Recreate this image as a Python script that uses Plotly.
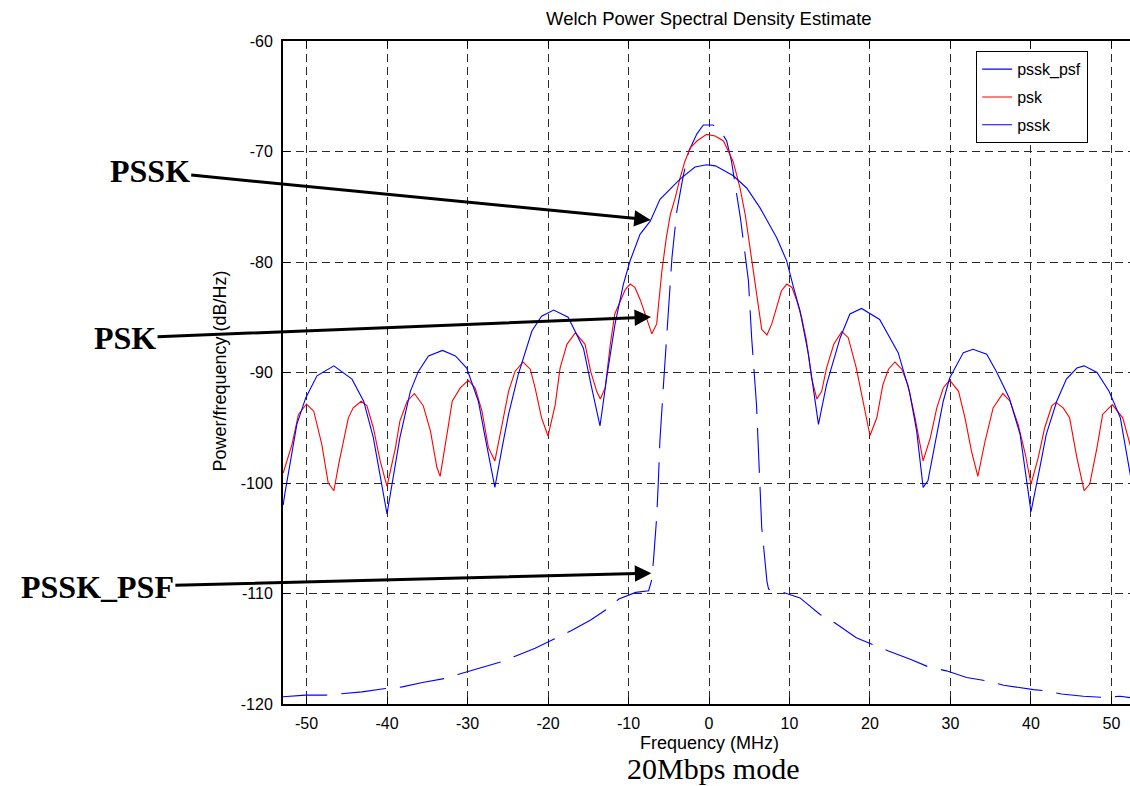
import plotly.graph_objects as go

# ---------------- data ----------------
psf_f = [-53.0, -50.1, -47.6, -45.6, -43.1, -40.2, -38.1, -35.6, -32.9, -31.1, -28.6, -26.1,
         -24.0, -21.6, -19.3, -17.2, -14.7, -12.85, -11.2, -9.1, -7.5, -7.15, -6.9, -6.5,
         -6.3, -6.1, -5.6, -5.2, -4.6, -4.0, -3.2, -2.5, -1.5, -0.7, 0.5, 1.5, 2.2, 2.8,
         3.9, 4.9, 5.3, 5.9, 6.15, 6.55, 7.2, 7.4, 9.25, 11.3, 13.8, 15.7, 18.3, 20.2,
         22.3, 25.0, 27.3, 29.5, 32.0, 34.5, 36.6, 40.3, 41.7, 43.8, 46.5, 49.0, 51.1, 53.0]
psf_db = [-119.35, -119.2, -119.2, -119.05, -118.9, -118.6, -118.45, -118.05, -117.7, -117.3,
          -116.8, -116.25, -115.65, -114.95, -114.15, -113.4, -112.4, -111.5, -110.5, -109.9,
          -109.75, -108.85, -107.05, -103.1, -100.0, -96.2, -90.5, -85.9, -79.6, -75.4, -72.2,
          -69.95, -68.4, -67.6, -67.6, -68.2, -69.05, -70.9, -76.0, -81.7, -86.85, -92.9, -97.0,
          -104.0, -108.9, -109.6, -109.9, -110.4, -111.9, -112.7, -114.0, -114.6, -115.2,
          -115.95, -116.65, -117.0, -117.6, -117.9, -118.3, -118.7, -118.8, -119.1, -119.3,
          -119.4, -119.3, -119.5]

psk_f = [-52.9, -51.8, -51.0, -50.0, -49.1, -48.1, -47.3, -46.6, -46.0, -44.8, -44.2, -43.2,
         -42.5, -41.7, -40.85, -40.0, -38.95, -38.4, -37.5, -36.6, -35.5, -34.6, -33.8, -33.4,
         -32.35, -31.9, -30.9, -29.9, -29.05, -28.2, -27.4, -26.6, -25.7, -24.9, -24.1, -23.1,
         -22.2, -21.6, -20.8, -20.0, -19.1, -18.5, -17.65, -16.6, -15.4, -14.7, -13.95, -13.5,
         -12.9, -12.25, -11.7, -11.0, -10.4, -9.8, -9.2, -8.5, -7.7, -7.1, -6.5, -5.85, -5.3,
         -4.8, -4.2, -3.6, -3.0, -2.3, -1.5, -0.3, 0.77, 1.8, 3.0, 3.85, 4.5, 5.5, 6.55, 7.2,
         7.8, 8.4, 9.0, 9.66, 10.3, 10.9, 11.5, 12.1, 12.75, 13.4, 14.0, 14.6, 15.5, 16.5,
         17.3, 18.3, 19.2, 20.0, 20.85, 21.6, 22.3, 23.1, 23.95, 24.7, 25.6, 26.6, 27.5, 28.3,
         29.1, 29.9, 31.0, 31.8, 32.6, 33.4, 34.3, 35.3, 36.5, 37.4, 38.4, 39.3, 40.0, 40.9,
         41.7, 42.6, 43.1, 44.0, 44.8, 45.7, 46.6, 47.3, 48.2, 48.9, 50.1, 51.4, 52.3, 53.0]
psk_db = [-99.1, -96.5, -93.8, -92.85, -93.5, -96.5, -100.0, -100.7, -98.3, -94.1, -93.2, -92.6,
          -93.0, -95.0, -98.0, -100.3, -96.8, -94.4, -92.6, -91.9, -93.0, -95.3, -98.6, -99.4,
          -94.7, -92.6, -91.4, -90.7, -91.4, -93.5, -96.8, -98.0, -94.7, -91.7, -89.9, -89.05,
          -89.7, -91.4, -94.1, -95.75, -92.9, -89.6, -87.45, -86.4, -87.45, -89.9, -91.7, -92.4,
          -91.4, -87.4, -84.7, -83.5, -82.5, -82.0, -82.3, -83.5, -85.3, -86.5, -85.6, -80.8,
          -77.8, -75.7, -74.2, -72.4, -70.9, -69.65, -69.05, -68.45, -68.6, -69.05, -70.9,
          -73.3, -75.7, -80.8, -86.1, -86.6, -85.6, -84.1, -82.6, -82.0, -82.3, -83.5, -85.0,
          -87.1, -90.5, -92.4, -91.7, -89.6, -87.45, -86.3, -86.85, -89.6, -92.9, -95.7, -94.1,
          -91.1, -89.7, -89.05, -89.7, -91.1, -94.1, -98.0, -95.9, -93.2, -91.4, -90.7, -91.7,
          -94.1, -97.1, -99.4, -96.2, -93.2, -91.9, -92.6, -94.7, -97.4, -100.1, -97.7, -95.0,
          -93.0, -92.7, -93.2, -94.1, -97.7, -100.7, -100.1, -96.8, -93.8, -92.9, -94.1, -96.5,
          -98.5]

pssk_f = [-52.9, -52.7, -51.2, -50.1, -48.7, -46.6, -44.35, -42.9, -41.7, -40.0, -38.4, -37.1,
          -36.1, -34.85, -33.1, -31.5, -30.1, -28.65, -27.8, -26.6, -25.7, -24.9, -23.7, -22.8,
          -22.0, -20.8, -19.3, -17.5, -15.6, -14.57, -13.54, -12.71, -11.68, -10.64, -9.81,
          -8.57, -7.3, -6.09, -3.6, -1.74, -0.29, 0.8, 1.78, 3.02, 4.68, 6.34, 8.41, 9.65,
          10.5, 11.3, 12.35, 13.6, 14.6, 16.3, 17.5, 18.95, 21.2, 23.5, 24.9, 25.8, 26.6, 27.2,
          28.3, 29.1, 29.9, 31.6, 32.8, 34.5, 35.7, 37.3, 38.65, 40.0, 41.1, 41.9, 43.2, 44.4,
          45.7, 46.6, 48.2, 49.7, 51.1, 52.3, 53.0]
pssk_db = [-102.0, -101.0, -94.7, -92.3, -90.3, -89.4, -90.6, -92.6, -95.9, -102.8, -95.9,
           -91.7, -89.9, -88.5, -88.0, -88.5, -89.6, -92.6, -95.9, -100.4, -96.8, -93.8, -90.2,
           -88.05, -86.25, -84.9, -84.35, -85.0, -87.8, -91.4, -94.84, -90.47, -85.64, -82.02,
           -79.91, -77.5, -76.3, -74.33, -72.5, -71.4, -71.2, -71.3, -71.7, -72.2, -73.3, -75.1,
           -77.8, -79.9, -82.3, -84.4, -88.35, -94.7, -91.1, -86.85, -84.7, -84.2, -85.2, -88.2,
           -91.7, -95.3, -100.4, -99.8, -95.6, -92.6, -90.5, -88.2, -87.9, -88.35, -89.9, -92.3,
           -95.6, -102.6, -98.6, -95.6, -92.6, -90.6, -89.6, -89.4, -90.0, -91.7, -94.1, -98.9,
           -102.0]

x_ticks = [-50, -40, -30, -20, -10, 0, 10, 20, 30, 40, 50]
x_tick_labels = ["-50", "-40", "-30", "-20", "-10", "0", "10", "20", "30", "40", "50"]
y_ticks = [-120, -110, -100, -90, -80, -70, -60]
y_tick_labels = ["-120", "-110", "-100", "-90", "-80", "-70", "-60"]

series_names = ["pssk_psf", "psk", "pssk"]

# ---------------- figure ----------------
SANS = "Liberation Sans, Arial, sans-serif"
SERIF = "Liberation Serif, Times New Roman, serif"

fig = go.Figure()
fig.add_trace(go.Scatter(x=psf_f, y=psf_db, mode="lines", name=series_names[0],
                         legendgroup="a",
                         line=dict(color="#0000FF", width=1.1, dash="45px,14px")))
fig.add_trace(go.Scatter(x=psk_f, y=psk_db, mode="lines", name=series_names[1],
                         legendgroup="b",
                         line=dict(color="#FF0000", width=1.1)))
fig.add_trace(go.Scatter(x=pssk_f, y=pssk_db, mode="lines", name=series_names[2],
                         legendgroup="c",
                         line=dict(color="#0000FF", width=1.1)))

axis_common = dict(
    showgrid=True, gridcolor="#2a2a2a", gridwidth=1, griddash="8px,5px",
    zeroline=False, showline=True, linecolor="black", linewidth=2,
    ticks="inside", ticklen=7, tickcolor="black", tickwidth=1,
    tickfont=dict(family=SANS, size=16, color="black"),
)

fig.update_xaxes(range=[-52.92, 52.30], tickvals=x_ticks, ticktext=x_tick_labels,
                 mirror="ticks", ticklabelstandoff=4, **axis_common)
fig.update_yaxes(range=[-120, -60], tickvals=y_ticks, ticktext=y_tick_labels,
                 mirror=False, ticklabelstandoff=5, **axis_common)

annotations = [
    dict(text="Welch Power Spectral Density Estimate", x=0, xref="x",
         y=1.0332, yref="paper", xanchor="center", yanchor="middle", showarrow=False,
         font=dict(family=SANS, size=18.5, color="black")),
    dict(text="Frequency (MHz)", x=0, xref="x", y=-0.0584, yref="paper",
         xanchor="center", yanchor="middle", showarrow=False,
         font=dict(family=SANS, size=18, color="black")),
    dict(text="20Mbps mode", x=0.62, xref="x", y=-0.0975, yref="paper",
         xanchor="center", yanchor="middle", showarrow=False,
         font=dict(family=SERIF, size=30, color="black")),
    dict(text="Power/frequency (dB/Hz)", x=-0.0744, xref="paper", y=0.503, yref="paper",
         xanchor="center", yanchor="middle", textangle=-90, showarrow=False,
         font=dict(family=SANS, size=18, color="black")),
    # arrow labels
    dict(text="<b>PSSK</b>", x=-7.24, xref="x", y=-76.2, yref="y",
         ax=-501, ay=-49, showarrow=True, arrowhead=2, arrowsize=1.1, arrowwidth=3,
         arrowcolor="black", font=dict(family=SERIF, size=32, color="black")),
    dict(text="<b>PSK</b>", x=-7.2, xref="x", y=-84.98, yref="y",
         ax=-526, ay=21, showarrow=True, arrowhead=2, arrowsize=1.1, arrowwidth=3,
         arrowcolor="black", font=dict(family=SERIF, size=32, color="black")),
    dict(text="<b>PSSK_PSF</b>", x=-7.16, xref="x", y=-108.16, yref="y",
         ax=-554, ay=14, showarrow=True, arrowhead=2, arrowsize=1.1, arrowwidth=3,
         arrowcolor="black", font=dict(family=SERIF, size=32, color="black")),
]

fig.update_layout(
    width=1130, height=786,
    margin=dict(l=283, r=0, t=41, b=82, pad=0),
    paper_bgcolor="white", plot_bgcolor="white",
    showlegend=True,
    legend=dict(x=0.818, y=0.985, xanchor="left", yanchor="top",
                bgcolor="white", bordercolor="black", borderwidth=1.3,
                font=dict(family=SANS, size=16, color="black"),
                traceorder="grouped", tracegroupgap=4),
    annotations=annotations,
)

fig.write_html("out.html",
               config={"displayModeBar": False},
               post_script="document.body.style.margin='0';document.body.style.overflow='hidden';")
